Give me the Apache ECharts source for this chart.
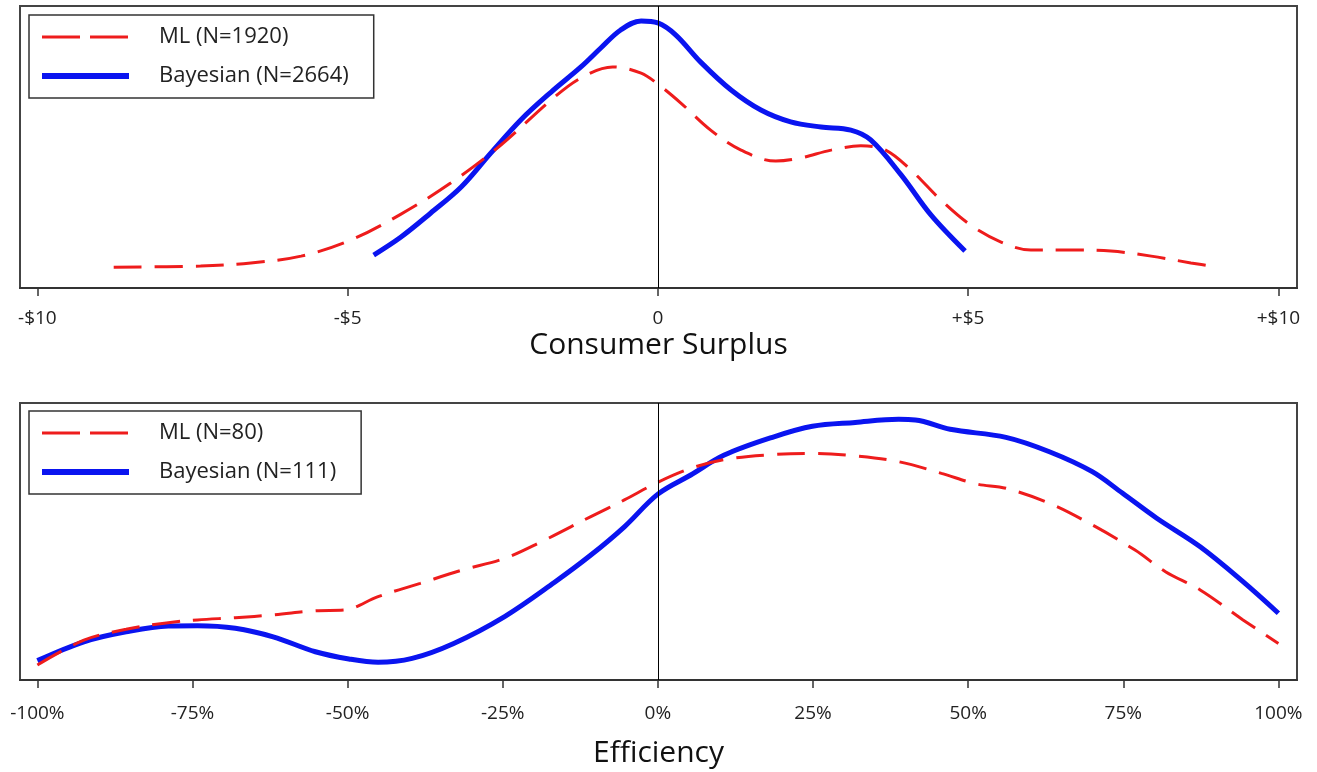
<!DOCTYPE html>
<html>
<head>
<meta charset="utf-8">
<script src="https://cdn.jsdelivr.net/npm/echarts@6/dist/echarts.min.js"></script>
<style>
html,body{margin:0;padding:0;background:#fff;}
#chart{width:1317px;height:772px;}
</style>
</head>
<body>
<div id="chart"></div>
<script>
// ---- Top panel: Consumer Surplus ($) ----
const csTicks = [-10, -5, 0, 5, 10];
const csTickLabels = ['-$10', '-$5', '0', '+$5', '+$10'];
const csMlX = [-8.77,-7.37,-6.56,-5.75,-4.95,-4.14,-3.34,-2.53,-1.72,-1.24,-0.73,-0.27,0,0.37,0.85,1.34,1.9,2.3,2.79,3.27,3.67,4.08,4.56,5.04,5.53,6.01,6.66,7.3,7.95,8.59,9.02];
const csMlY = [7.4,7.8,8.9,11.3,17.0,26.2,37.2,50.7,66.7,74.5,78.4,76.2,72.3,65.6,56.0,48.9,45.0,46.1,48.9,50.4,48.9,41.8,31.2,22.3,16.3,13.5,13.5,13.1,11.3,8.9,7.4];
const csBayX = [-4.58,-4.14,-3.66,-3.17,-2.69,-2.21,-1.72,-1.24,-0.92,-0.6,-0.27,0,0.29,0.69,1.18,1.66,2.14,2.63,3.11,3.43,3.92,4.4,4.95];
const csBayY = [11.7,18.1,26.6,35.8,47.9,59.6,69.5,78.4,85.1,91.5,94.7,94.0,89.7,80.1,70.2,63.1,58.9,57.1,56.0,52.5,40.1,25.9,13.1];
const csMlName = 'ML (N=1920)';
const csBayName = 'Bayesian (N=2664)';

// ---- Bottom panel: Efficiency (%) ----
const efTicks = [-100, -75, -50, -25, 0, 25, 50, 75, 100];
const efTickLabels = ['-100%','-75%','-50%','-25%','0%','25%','50%','75%','100%'];
const efMlX = [-100,-92.5,-85.7,-78.9,-74.2,-68.1,-62,-55.2,-50.5,-45.1,-38.3,-31.5,-24.7,-18.8,-10.8,-5.4,0,5.3,10.7,17.9,24.9,31.8,38.8,45.7,51.3,56.1,63.1,70,76.9,81.8,87.4,94.3,100];
const efMlY = [5.4,14.4,18.3,20.7,21.7,22.5,23.5,25.0,25.3,30.1,34.9,39.7,43.9,49.9,59.0,65.0,71.4,76.4,79.6,81.3,81.8,80.9,78.8,74.6,70.8,69.2,63.8,56.0,46.9,39.1,32.5,21.7,13.2];
const efBayX = [-100,-92.5,-85.7,-78.9,-74.2,-68.1,-62,-55.2,-49.8,-45.1,-39.6,-32.9,-24.7,-16.7,-10.8,-5.4,0,5.3,10.7,18.7,24.9,31.8,38.8,41.5,47.1,56.1,63.1,70,74.9,80.4,87.4,94.3,100];
const efBayY = [7.0,13.8,17.4,19.5,19.6,18.7,15.6,10.2,7.6,6.4,7.8,13.2,22.9,35.2,45.1,55.3,67.1,74.0,81.2,87.8,91.6,93.0,94.1,93.9,90.5,87.6,82.4,75.2,67.4,58.4,48.1,35.5,24.1];
const efMlName = 'ML (N=80)';
const efBayName = 'Bayesian (N=111)';

const zip = (xs, ys) => xs.map((x, i) => [x, ys[i]]);
const FONT = '"Open Sans", "DejaVu Sans", sans-serif';
const RED = '#ee1c1c';
const BLUE = '#0a14f0';

function xAxisFor(gridIndex, min, max, ticks, labels, name, labelMargin, nameGap) {
  return {
    type: 'value', gridIndex, min, max,
    name, nameLocation: 'middle', nameGap,
    nameTextStyle: { fontFamily: FONT, fontSize: 30, color: '#111' },
    axisLine: { show: true, onZero: false, lineStyle: { color: '#333', width: 2 } },
    axisTick: { show: true, customValues: ticks, length: 8, inside: false, lineStyle: { color: '#333', width: 1.5 } },
    axisLabel: {
      customValues: ticks, margin: labelMargin, fontFamily: FONT, fontSize: 19, color: '#222',
      formatter: v => labels[ticks.indexOf(Math.round(v))] ?? ''
    },
    splitLine: { show: false }
  };
}
function yAxisFor(gridIndex) {
  return {
    type: 'value', gridIndex, min: 0, max: 100,
    axisLine: { show: false }, axisTick: { show: false },
    axisLabel: { show: false }, splitLine: { show: false }
  };
}
const vline = {
  silent: true, symbol: 'none', label: { show: false },
  lineStyle: { color: '#000', width: 1, type: 'solid' },
  data: [{ xAxis: 0 }], animation: false
};
function mlSeries(name, data, xi) {
  return {
    name, type: 'line', xAxisIndex: xi, yAxisIndex: xi, data, smooth: 0.35,
    showSymbol: false, symbol: 'none', z: 3,
    lineStyle: { color: RED, width: 3, type: [28, 13] },
    itemStyle: { color: RED }
  };
}
function bayesSeries(name, data, xi) {
  return {
    name, type: 'line', xAxisIndex: xi, yAxisIndex: xi, data, smooth: 0.35,
    showSymbol: false, symbol: 'none', z: 2,
    lineStyle: { color: BLUE, width: 5, type: 'solid' },
    itemStyle: { color: BLUE }
  };
}
function legendFor(top, mlName, bayName, rightPad) {
  return {
    orient: 'vertical', left: 29, top,
    data: [
      { name: mlName, lineStyle: { color: RED, width: 3, type: [38, 10] } },
      { name: bayName, lineStyle: { color: BLUE, width: 6, type: 'solid' } }
    ],
    itemWidth: 87, itemHeight: 24, itemGap: 17,
    itemStyle: { opacity: 0 },
    padding: [11, rightPad, 11, 10],
    borderColor: '#333', borderWidth: 1.5, backgroundColor: '#fff',
    textStyle: { fontFamily: FONT, fontSize: 22, color: '#222', padding: [0, 0, 0, 25] },
    selectedMode: false
  };
}

const chart = echarts.init(document.getElementById('chart'), null, { renderer: 'canvas' });
chart.setOption({
  animation: false,
  backgroundColor: '#fff',
  grid: [
    { left: 20, right: 20, top: 6, height: 282, show: true, borderColor: '#444', borderWidth: 2, backgroundColor: 'transparent' },
    { left: 20, right: 20, top: 403, height: 277, show: true, borderColor: '#444', borderWidth: 2, backgroundColor: 'transparent' }
  ],
  legend: [
    legendFor(15, csMlName, csBayName, 25),
    legendFor(411, efMlName, efBayName, 25)
  ],
  xAxis: [
    xAxisFor(0, -10.28, 10.3, csTicks, csTickLabels, 'Consumer Surplus', 21, 42),
    xAxisFor(1, -102.8, 103.0, efTicks, efTickLabels, 'Efficiency', 24, 58)
  ],
  yAxis: [yAxisFor(0), yAxisFor(1)],
  series: [
    Object.assign(bayesSeries(csBayName, zip(csBayX, csBayY), 0), { markLine: vline }),
    mlSeries(csMlName, zip(csMlX, csMlY), 0),
    Object.assign(bayesSeries(efBayName, zip(efBayX, efBayY), 1), { markLine: vline }),
    mlSeries(efMlName, zip(efMlX, efMlY), 1)
  ]
});
</script>
</body>
</html>
